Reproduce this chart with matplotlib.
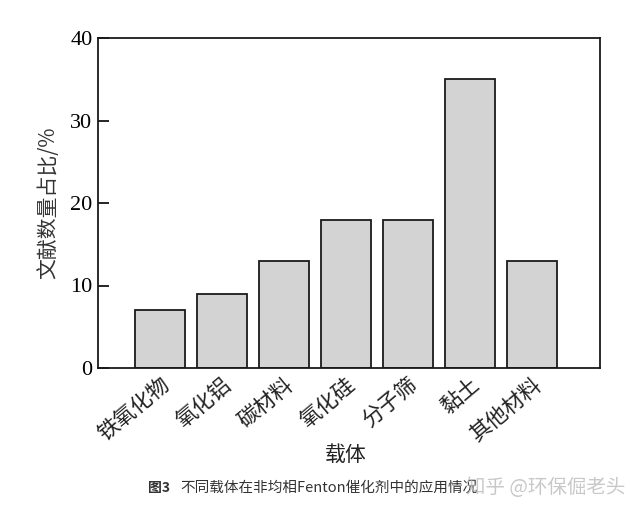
import matplotlib
matplotlib.use("Agg")
import matplotlib.pyplot as plt

categories = ["铁氧化物", "氧化铝", "碳材料", "氧化硅", "分子筛", "黏土", "其他材料"]
values = [7, 9, 13, 18, 18, 35, 13]
yticks = [0, 10, 20, 30, 40]

cjk = ["Noto Sans CJK SC", "DejaVu Sans"]
serif = ["Liberation Serif", "DejaVu Serif"]

fig = plt.figure(figsize=(6.42, 5.11), dpi=100)
ax = fig.add_axes([98/642, 1-368/511, (600-98)/642, (368-38)/511])

x = list(range(len(categories)))
ax.bar(x, values, width=0.8, color="#d3d3d3", edgecolor="#1a1a1a", linewidth=1.3)
ax.set_xlim(-1, 7.1)
ax.set_ylim(0, 40)
ax.set_yticks(yticks)
ax.set_yticklabels([str(v) for v in yticks], family=serif, fontsize=16)
ax.tick_params(axis="y", direction="in", length=8, width=1.2, pad=4)
ax.set_xticks(x)
ax.set_xticklabels(categories, family=cjk, fontsize=15.5, rotation=40, ha="right",
                   rotation_mode="anchor", color="#222222")
ax.tick_params(axis="x", length=0, pad=4)
for s in ax.spines.values():
    s.set_linewidth(1.3)
    s.set_color("#1a1a1a")

ax.set_ylabel("文献数量占比/%", family=cjk, fontsize=15, color="#333333", labelpad=8)
ax.set_xlabel("载体", family=cjk, fontsize=15, color="#222222", va="center")
ax.xaxis.set_label_coords(0.494, (368-455)/330)

fig.text(148/642, 1-488/511, "图3", family=cjk, fontsize=10, fontweight="bold",
         color="#333333", va="center")
fig.text(180/642, 1-488/511, "不同载体在非均相Fenton催化剂中的应用情况", family=cjk,
         fontsize=10.5, color="#333333", va="center")
fig.text(625/642, 1-487/511, "知乎 @环保倔老头", family=cjk, fontsize=14,
         color="#bbbbbb", va="center", ha="right", alpha=0.8)

fig.savefig("out.png", dpi=100)
